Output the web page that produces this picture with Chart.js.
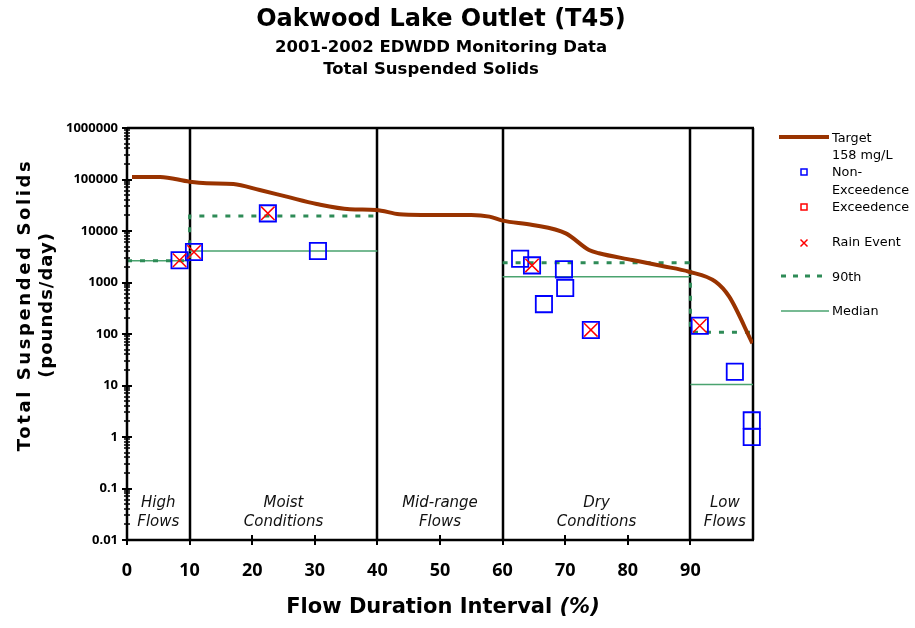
<!DOCTYPE html>
<html><head><meta charset="utf-8">
<script src="https://cdn.jsdelivr.net/npm/chart.js@4/dist/chart.umd.min.js"></script>
<style>html,body{margin:0;padding:0;background:#fff;}canvas{display:block;}</style>
</head><body>
<canvas id="c" width="915" height="628"></canvas>
<script>
const titleLines = ['Oakwood Lake Outlet (T45)', '2001-2002 EDWDD Monitoring Data', 'Total Suspended Solids'];
const yTitleLines = ['Total Suspended Solids', '(pounds/day)'];
const xTitleMain = 'Flow Duration Interval ';
const xTitleUnit = '(%)';
const xTickValues = [0, 10, 20, 30, 40, 50, 60, 70, 80, 90];
const yTickValues = [0.01, 0.1, 1, 10, 100, 1000, 10000, 100000, 1000000];
const yTickLabels = ['0.01', '0.1', '1', '10', '100', '1000', '10000', '100000', '1000000'];
const regionBounds = [10, 40, 60, 90, 100];
const regionCenters = [5, 25, 50, 75, 95.5];
const regionNames = [['High', 'Flows'], ['Moist', 'Conditions'], ['Mid-range', 'Flows'], ['Dry', 'Conditions'], ['Low', 'Flows']];

const targetPct  = [0.8, 5.3, 10, 12.7, 17, 21.2, 25.5, 30.3, 35.6, 39.8, 43.5, 47, 55, 57.9, 60, 64.8, 70.1, 73.8, 75.4, 80.7, 85.5, 89.8, 94, 96.2, 99.9];
const targetLoad = [112000, 112000, 90600, 84700, 81900, 62500, 46400, 33400, 26400, 25600, 21100, 20500, 20500, 19000, 15900, 13100, 9000, 4280, 3690, 2740, 2090, 1620, 1040, 530, 66];

const samplePct  = [8.4, 10.7, 22.5, 30.5, 62.8, 64.7, 66.6, 69.8, 70.0, 74.1, 91.5, 97.1, 99.8, 99.8];
const sampleLoad = [2700, 3900, 22000, 4100, 2900, 2150, 380, 1800, 780, 120, 145, 18.5, 2.1, 1.0];

const exceedPct  = [];
const exceedLoad = [];

const rainPct  = [8.4, 10.7, 22.5, 64.7, 74.1, 91.5];
const rainLoad = [2700, 3900, 22000, 2150, 120, 145];

const p90Pct  = [0, 10, 10, 40, 50, 60, 90, 90, 100];
const p90Load = [2650, 2650, 19500, 19500, null, 2430, 2430, 108, 108];

const medianPct  = [0, 10, 10, 10, 40, 50, 60, 90, 90, 90, 100];
const medianLoad = [2650, 2650, null, 4090, 4090, null, 1300, 1300, null, 10.5, 10.5];

const legendLabels = [['Target', '158 mg/L'], ['Non-', 'Exceedence'], ['Exceedence'], ['Rain Event'], ['90th'], ['Median']];

const pts = (xs, ys) => xs.map((v, i) => ({x: v, y: ys[i]}));
const FONT = '"DejaVu Sans", Verdana, sans-serif';
const TFONT = '"Noto Sans", "DejaVu Sans", sans-serif';
const BROWN = '#993300', BLUE = '#0000ff', RED = '#ff0000', GREEN = '#2e8b57', MGREEN = '#4aa36f';

const overlay = {
  id: 'overlay',
  beforeDatasetsDraw(chart) {
    const {ctx, chartArea: a, scales: {x}} = chart;
    ctx.save();
    ctx.strokeStyle = '#000';
    ctx.lineWidth = 2.5;
    regionBounds.forEach(v => {
      const px = Math.round(x.getPixelForValue(v));
      ctx.beginPath(); ctx.moveTo(px, a.top); ctx.lineTo(px, a.bottom); ctx.stroke();
    });
    ctx.beginPath(); ctx.moveTo(a.left, a.top); ctx.lineTo(a.right + 1, a.top); ctx.stroke();
    // region labels
    ctx.fillStyle = '#111';
    ctx.font = 'italic 15px ' + FONT;
    ctx.textAlign = 'center'; ctx.textBaseline = 'middle';
    regionNames.forEach((lines, i) => {
      const px = x.getPixelForValue(regionCenters[i]);
      lines.forEach((t, j) => ctx.fillText(t, px, 503 + j * 19));
    });
    ctx.restore();
  },
  afterDatasetsDraw(chart) {
    const {ctx, chartArea: a, scales: {x, y}} = chart;
    ctx.save();
    // axes
    ctx.strokeStyle = '#000'; ctx.lineWidth = 2.5;
    ctx.beginPath(); ctx.moveTo(a.left, a.top); ctx.lineTo(a.left, a.bottom); ctx.lineTo(a.right + 1, a.bottom); ctx.stroke();
    // x ticks (crossing)
    ctx.lineWidth = 2;
    xTickValues.forEach(v => {
      const px = Math.round(x.getPixelForValue(v));
      ctx.beginPath(); ctx.moveTo(px, a.bottom - 5); ctx.lineTo(px, a.bottom + 5); ctx.stroke();
    });
    // y ticks major + minor
    yTickValues.forEach((v, i) => {
      const py = Math.round(y.getPixelForValue(v));
      ctx.lineWidth = 2;
      ctx.beginPath(); ctx.moveTo(a.left - 5, py); ctx.lineTo(a.left + 5, py); ctx.stroke();
      if (i < yTickValues.length - 1) {
        ctx.lineWidth = 1.5;
        for (let k = 2; k < 10; k++) {
          const pm = Math.round(y.getPixelForValue(v * k));
          ctx.beginPath(); ctx.moveTo(a.left - 3, pm); ctx.lineTo(a.left + 3, pm); ctx.stroke();
        }
      }
    });
    // titles
    ctx.fillStyle = '#000';
    ctx.textAlign = 'center'; ctx.textBaseline = 'middle';
    ctx.font = 'bold 24px ' + FONT;
    ctx.fillText(titleLines[0], 441, 20);
    ctx.font = 'bold 16.5px ' + FONT;
    ctx.fillText(titleLines[1], 441, 48);
    ctx.fillText(titleLines[2], 431, 70);
    // y title
    ctx.save();
    ctx.translate(25, 305); ctx.rotate(-Math.PI / 2);
    ctx.font = 'bold 18px ' + FONT;
    ctx.letterSpacing = '2.6px';
    ctx.fillText(yTitleLines[0], 0, 0);
    ctx.letterSpacing = '1px';
    ctx.fillText(yTitleLines[1], 0, 22);
    ctx.restore();
    // x title
    ctx.font = 'bold 21px ' + FONT;
    const w1 = ctx.measureText(xTitleMain).width;
    ctx.font = 'italic bold 21px ' + FONT;
    const w2 = ctx.measureText(xTitleUnit).width;
    const sx = 443 - (w1 + w2) / 2;
    ctx.textAlign = 'left';
    ctx.font = 'bold 21px ' + FONT;
    ctx.fillText(xTitleMain, sx, 608);
    ctx.font = 'italic bold 21px ' + FONT;
    ctx.fillText(xTitleUnit, sx + w1, 608);
    // legend
    const lx = 832;
    ctx.font = '12.8px ' + FONT;
    ctx.textAlign = 'left'; ctx.textBaseline = 'middle';
    const textRows = [[139, 156], [173, 191], [208], [243], [278], [312]];
    legendLabels.forEach((lines, i) => lines.forEach((t, j) => ctx.fillText(t, lx, textRows[i][j])));
    ctx.lineCap = 'butt';
    ctx.strokeStyle = BROWN; ctx.lineWidth = 4;
    ctx.beginPath(); ctx.moveTo(779, 137); ctx.lineTo(829, 137); ctx.stroke();
    ctx.lineWidth = 1.5;
    ctx.strokeStyle = BLUE; ctx.strokeRect(801, 169, 6, 6);
    ctx.strokeStyle = RED; ctx.strokeRect(801, 204, 6, 6);
    ctx.beginPath(); ctx.moveTo(800.5, 239.5); ctx.lineTo(807.5, 246.5); ctx.moveTo(807.5, 239.5); ctx.lineTo(800.5, 246.5); ctx.stroke();
    ctx.strokeStyle = GREEN; ctx.lineWidth = 3; ctx.setLineDash([5, 7]);
    ctx.beginPath(); ctx.moveTo(781, 276); ctx.lineTo(829, 276); ctx.stroke();
    ctx.setLineDash([]);
    ctx.strokeStyle = MGREEN; ctx.lineWidth = 1.5;
    ctx.beginPath(); ctx.moveTo(781, 311); ctx.lineTo(829, 311); ctx.stroke();
    ctx.restore();
  }
};

new Chart(document.getElementById('c'), {
  type: 'scatter',
  data: {
    datasets: [
      {label: 'Median', data: pts(medianPct, medianLoad), showLine: true, spanGaps: false, borderColor: MGREEN, borderWidth: 1.5, pointRadius: 0, order: 5},
      {label: '90th', data: pts(p90Pct, p90Load), showLine: true, spanGaps: false, borderColor: GREEN, borderWidth: 3, borderDash: [5, 8], pointRadius: 0, order: 4},
      {label: 'Target 158 mg/L', data: pts(targetPct, targetLoad), showLine: true, borderColor: BROWN, borderWidth: 4, pointRadius: 0, cubicInterpolationMode: 'monotone', order: 3},
      {label: 'Non-Exceedence', data: pts(samplePct, sampleLoad), clip: false, pointStyle: 'rect', pointRadius: 11.5, borderColor: BLUE, backgroundColor: 'rgba(0,0,0,0)', borderWidth: 1.8, order: 2},
      {label: 'Exceedence', data: pts(exceedPct, exceedLoad), clip: false, pointStyle: 'rect', pointRadius: 11.5, borderColor: RED, backgroundColor: 'rgba(0,0,0,0)', borderWidth: 1.8, order: 1},
      {label: 'Rain Event', data: pts(rainPct, rainLoad), clip: false, pointStyle: 'crossRot', pointRadius: 9.5, borderColor: RED, borderWidth: 1.5, order: 0}
    ]
  },
  options: {
    responsive: false,
    animation: false,
    layout: {padding: {left: 0, top: 128, right: 162, bottom: 0}},
    plugins: {legend: {display: false}, title: {display: false}, tooltip: {enabled: false}},
    scales: {
      x: {
        type: 'linear', min: 0, max: 100,
        afterBuildTicks: s => { s.ticks = xTickValues.map(v => ({value: v})); },
        afterFit: s => { s.height = 88; },
        ticks: {autoSkip: false, maxRotation: 0, padding: 20, color: '#000', font: {family: TFONT, size: 18, weight: 'bold'}, callback: v => String(v)},
        grid: {display: false, drawTicks: false},
        border: {display: false}
      },
      y: {
        type: 'logarithmic', min: 0.01, max: 1000000,
        afterBuildTicks: s => { s.ticks = yTickValues.map(v => ({value: v})); },
        afterFit: s => { s.width = 127; },
        ticks: {autoSkip: false, padding: 9, color: '#000', font: {family: TFONT, size: 13, weight: 'bold'}, callback: (v, i) => yTickLabels[i]},
        grid: {display: false, drawTicks: false},
        border: {display: false}
      }
    }
  },
  plugins: [overlay]
});
</script>
</body></html>
